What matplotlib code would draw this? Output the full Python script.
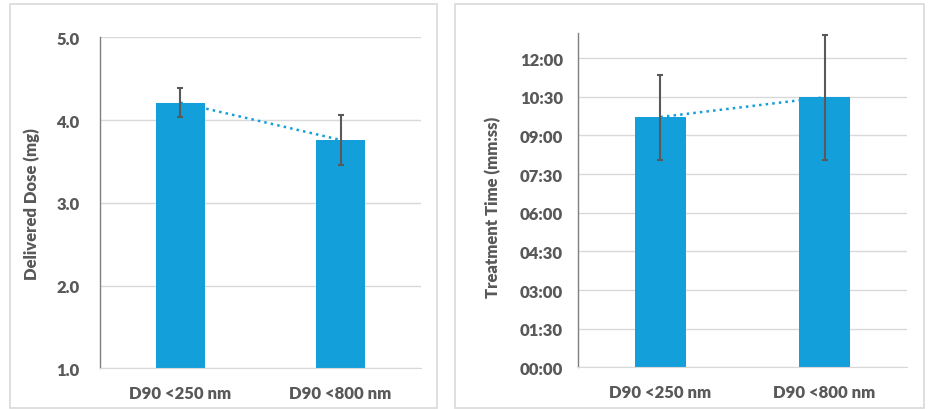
import matplotlib
matplotlib.use("Agg")
import matplotlib.pyplot as plt
from matplotlib.patches import Rectangle
from matplotlib.ticker import FuncFormatter, MultipleLocator

categories = ["D90 <250 nm", "D90 <800 nm"]
dose_mg = [4.21, 3.76]
dose_err = [0.175, 0.305]
time_s = [583, 629]
time_err = [99, 146]

BAR = "#139fda"
TXT = "#595959"
GRID = "#d9d9d9"
FS = 12
WT = 'heavy'
plt.rcParams['font.family'] = ['Lato', 'DejaVu Sans']

fig = plt.figure(figsize=(9.29, 4.10), dpi=100)
W, H = 929, 410

def fx(px):
    return px / W

def fy(py):
    return 1 - py / H

# panel frames
for x0, x1 in [(10, 437), (455, 924)]:
    fig.patches.append(Rectangle((fx(x0), fy(409)), fx(x1) - fx(x0), fy(5) - fy(409),
                                 transform=fig.transFigure, facecolor="none",
                                 edgecolor=GRID, linewidth=1.2))

def style(ax, pad_y):
    ax.set_axisbelow(True)
    ax.grid(axis='y', color=GRID, linewidth=1.0)
    for s in ['top', 'right']:
        ax.spines[s].set_visible(False)
    ax.spines['bottom'].set_color(GRID)
    ax.spines['left'].set_color("#7f7f7f")
    ax.spines['left'].set_linewidth(1.0)
    ax.tick_params(axis='both', length=0, colors=TXT, labelsize=FS)
    ax.tick_params(axis='y', pad=pad_y)
    ax.tick_params(axis='x', pad=12)
    for lab in ax.get_xticklabels() + ax.get_yticklabels():
        lab.set_fontweight(WT)

x = [0, 1]
# left panel
ax1 = fig.add_axes([fx(100.3), fy(369.3), fx(420.7) - fx(100.3), fy(38.3) - fy(369.3)])
ax1.plot(x, dose_mg, linestyle=':', color=BAR, linewidth=1.8, zorder=1)
ax1.bar(x, dose_mg, width=0.31, color=BAR, zorder=2)
ax1.errorbar(x, dose_mg, yerr=dose_err, fmt='none', ecolor=TXT, elinewidth=1.5,
             capsize=2.5, capthick=1.5, zorder=3)
ax1.set_xlim(-0.5, 1.5)
ax1.set_ylim(1.0, 5.0)
ax1.yaxis.set_major_locator(MultipleLocator(1.0))
ax1.yaxis.set_major_formatter(FuncFormatter(lambda v, p: f"{v:.1f}"))
ax1.set_xticks(x)
ax1.set_xticklabels(categories)
style(ax1, 15)
fig.text(fx(32), fy(204.5), "Delivered Dose (mg)", rotation=90, ha='center', va='center',
         color=TXT, fontsize=FS, fontweight=WT)

# right panel
ax2 = fig.add_axes([fx(578.3), fy(368.3), fx(906.7) - fx(578.3), fy(34.3) - fy(368.3)])
ax2.plot(x, time_s, linestyle=':', color=BAR, linewidth=1.8, zorder=1)
ax2.bar(x, time_s, width=0.31, color=BAR, zorder=2)
ax2.errorbar(x, time_s, yerr=time_err, fmt='none', ecolor=TXT, elinewidth=1.5,
             capsize=2.5, capthick=1.5, zorder=3)
ax2.set_xlim(-0.5, 1.5)
ax2.set_ylim(0, 778)
ax2.yaxis.set_major_locator(MultipleLocator(90))
ax2.yaxis.set_major_formatter(FuncFormatter(lambda v, p: f"{int(v)//60:02d}:{int(v)%60:02d}"))
ax2.set_xticks(x)
ax2.set_xticklabels(categories)
style(ax2, 11)
fig.text(fx(493), fy(207), "Treatment Time (mm:ss)", rotation=90, ha='center', va='center',
         color=TXT, fontsize=FS, fontweight=WT)

fig.savefig("out.png", dpi=100)
